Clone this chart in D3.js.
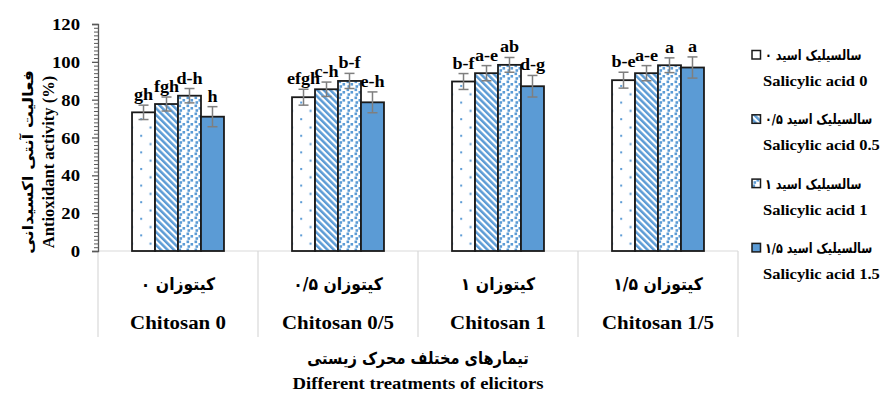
<!DOCTYPE html>
<html>
<head>
<meta charset="utf-8">
<script src="https://cdn.jsdelivr.net/npm/d3@7"></script>
<style>
  html, body { margin: 0; padding: 0; background: #fff; }
  svg { display: block; }
  .lat { font-family: "Liberation Serif", "Times New Roman", Tinos, "DejaVu Serif", serif; font-weight: bold; }
  .fa  { font-family: "DejaVu Sans", sans-serif; font-weight: bold; }
</style>
</head>
<body>
<svg id="chart" width="880" height="397"></svg>
<script>
// Chitosan treatments (groups) and salicylic acid levels (series)
const categories   = ["Chitosan 0", "Chitosan 0/5", "Chitosan 1", "Chitosan 1/5"];
const categoriesFa = ["کیتوزان ۰", "کیتوزان ۰/۵", "کیتوزان ۱", "کیتوزان ۱/۵"];
const seriesEn = ["Salicylic acid 0", "Salicylic acid 0.5", "Salicylic acid 1", "Salicylic acid 1.5"];
const seriesFa = ["سالسیلیک اسید ۰", "سالسیلیک اسید ۰/۵", "سالسیلیک اسید ۱", "سالسیلیک اسید ۱/۵"];

// Antioxidant activity (%) per series, one value per chitosan level
const sa0  = [73.3, 81.3, 89.6, 90.3];
const sa05 = [77.7, 85.5, 94.0, 94.0];
const sa1  = [82.1, 89.9, 98.4, 98.2];
const sa15 = [71.0, 78.6, 87.1, 97.0];

// Standard errors
const err0  = [3.8, 4.2, 4.2, 4.2];
const err05 = [3.7, 3.8, 4.0, 4.0];
const err1  = [3.8, 4.0, 3.9, 3.9];
const err15 = [5.3, 5.5, 5.7, 5.6];

// Mean-separation letters
const letters0  = ["gh", "efgh", "b-f", "b-e"];
const letters05 = ["fgh", "c-h", "a-e", "a-e"];
const letters1  = ["d-h", "b-f", "ab", "a"];
const letters15 = ["h", "e-h", "d-g", "a"];

const yTicks = [0, 20, 40, 60, 80, 100, 120];

const seriesValues  = [sa0, sa05, sa1, sa15];
const seriesErrors  = [err0, err05, err1, err15];
const seriesLetters = [letters0, letters05, letters1, letters15];

const BLUE = "#5b9bd5";
const SX = 1.1; // horizontal widening of Latin labels

const svg = d3.select("#chart");
const defs = svg.append("defs");

// --- fill patterns ---
// sparse dots
const pDots = defs.append("pattern").attr("id", "p0")
  .attr("patternUnits", "userSpaceOnUse").attr("width", 18.6).attr("height", 16.6);
pDots.append("rect").attr("width", 18.6).attr("height", 16.6).attr("fill", "#fff");
pDots.append("rect").attr("x", 5).attr("y", 2).attr("width", 2).attr("height", 2).attr("fill", BLUE);
pDots.append("rect").attr("x", 14.3).attr("y", 10.3).attr("width", 2).attr("height", 2).attr("fill", BLUE);

// wide downward diagonal stripes
const pDiag = defs.append("pattern").attr("id", "p1")
  .attr("patternUnits", "userSpaceOnUse").attr("width", 4.6).attr("height", 4.6)
  .attr("patternTransform", "rotate(-45)");
pDiag.append("rect").attr("width", 4.6).attr("height", 4.6).attr("fill", "#fff");
pDiag.append("rect").attr("width", 2.5).attr("height", 4.6).attr("fill", BLUE);

// confetti squares
const pConf = defs.append("pattern").attr("id", "p2")
  .attr("patternUnits", "userSpaceOnUse").attr("width", 8).attr("height", 8);
pConf.append("rect").attr("width", 8).attr("height", 8).attr("fill", "#fff");
[[0.5, 0.5], [4.5, 3], [1.5, 5.2]].forEach(([x, y]) =>
  pConf.append("rect").attr("x", x).attr("y", y).attr("width", 2.6).attr("height", 2.6).attr("fill", BLUE));

const fills = ["url(#p0)", "url(#p1)", "url(#p2)", BLUE];

// --- scales ---
const x0 = d3.scaleBand().domain(categories).range([98, 738]).paddingInner(0).paddingOuter(0);
const x1 = d3.scaleBand().domain(d3.range(4)).range([0, x0.bandwidth()]).paddingInner(0).paddingOuter(1.48);
const y = d3.scaleLinear().domain([0, 120]).range([251, 24]);

// Latin text, widened horizontally around its anchor
function latin(parent, x, yy, s, size, anchor) {
  return parent.append("text").attr("class", "lat")
    .attr("transform", `translate(${x},${yy}) scale(${SX},1)`)
    .attr("text-anchor", anchor || "middle")
    .attr("font-size", size).attr("fill", "#000").text(s);
}
// Persian text, right-to-left, with its own horizontal scale
function farsi(parent, x, yy, s, size, anchor, sx) {
  return parent.append("text").attr("class", "fa")
    .attr("transform", `translate(${x},${yy}) scale(${sx || 1},1)`)
    .attr("direction", "rtl")
    .attr("text-anchor", anchor || "middle")
    .attr("font-size", size).attr("fill", "#000").text(s);
}

// --- category axis: baseline and separators ---
const xa = svg.append("g");
xa.append("line").attr("x1", x0.range()[0]).attr("x2", x0.range()[1])
  .attr("y1", y(0)).attr("y2", y(0)).attr("stroke", "#d9d9d9").attr("stroke-width", 1.2);
const bounds = categories.map(c => x0(c)).concat([x0.range()[1]]);
xa.selectAll("line.sep").data(bounds).join("line").attr("class", "sep")
  .attr("x1", d => d).attr("x2", d => d).attr("y1", y(0)).attr("y2", 337)
  .attr("stroke", "#d9d9d9").attr("stroke-width", 1.2);

categories.forEach((c, i) => {
  const cx = x0(c) + x0.bandwidth() / 2;
  farsi(xa, cx, 290, categoriesFa[i], 17, "middle", 0.92);
  latin(xa, cx, 329, c, 19);
});

// --- bars ---
const groups = svg.append("g").selectAll("g").data(categories).join("g")
  .attr("transform", c => `translate(${x0(c)},0)`);

groups.each(function (c, ci) {
  const g = d3.select(this);
  const rows = seriesValues.map((vals, si) => ({
    si, v: vals[ci], e: seriesErrors[si][ci], lab: seriesLetters[si][ci]
  }));
  g.selectAll("rect").data(rows).join("rect")
    .attr("x", d => x1(d.si)).attr("width", x1.bandwidth())
    .attr("y", d => y(d.v)).attr("height", d => y(0) - y(d.v))
    .attr("fill", d => fills[d.si]).attr("stroke", "#1a1a1a").attr("stroke-width", 1.8);

  const cxOf = d => x1(d.si) + x1.bandwidth() / 2;
  const eb = g.selectAll("g.err").data(rows).join("g").attr("class", "err")
    .attr("stroke", "#7f7f7f").attr("stroke-width", 1.5);
  eb.append("line").attr("x1", cxOf).attr("x2", cxOf)
    .attr("y1", d => y(d.v + d.e)).attr("y2", d => y(d.v - d.e));
  eb.append("line").attr("x1", d => cxOf(d) - 5).attr("x2", d => cxOf(d) + 5)
    .attr("y1", d => y(d.v + d.e)).attr("y2", d => y(d.v + d.e));
  eb.append("line").attr("x1", d => cxOf(d) - 5).attr("x2", d => cxOf(d) + 5)
    .attr("y1", d => y(d.v - d.e)).attr("y2", d => y(d.v - d.e));

  rows.forEach(d => latin(g, cxOf(d), y(d.v + d.e) - 5, d.lab, 16.5));
});

// --- value axis ---
const yAxis = d3.axisLeft(y).tickValues(yTicks).tickSize(6).tickFormat("");
const ya = svg.append("g").attr("transform", "translate(98,0)").call(yAxis);
ya.select(".domain").attr("stroke", "#595959").attr("stroke-width", 1.3);
ya.selectAll(".tick line").attr("stroke", "#595959").attr("stroke-width", 1.3);
const yMinor = d3.axisLeft(y).tickValues(d3.range(0, 121, 2).filter(v => v % 20)).tickSize(4).tickFormat("");
const ym = svg.append("g").attr("transform", "translate(98,0)").call(yMinor);
ym.select(".domain").remove();
ym.selectAll(".tick line").attr("stroke", "#595959").attr("stroke-width", 1);
yTicks.forEach(t => latin(svg, 80, y(t) + 6, String(t), 17, "end"));

// axis titles
const yt = svg.append("g").attr("transform", "translate(0,162)");
yt.append("text").attr("class", "fa").attr("transform", "translate(28,0) rotate(-90) scale(1.12,1)")
  .attr("direction", "rtl").attr("text-anchor", "middle").attr("font-size", 15)
  .attr("dy", "0.35em").text("فعالیت آنتی اکسیدانی");
yt.append("text").attr("class", "lat").attr("transform", "translate(48,0) rotate(-90)")
  .attr("text-anchor", "middle").attr("font-size", 16.5)
  .attr("dy", "0.35em").text("Antioxidant activity (%)");

farsi(svg, 418, 364, "تیمارهای مختلف محرک زیستی", 17, "middle", 0.86);
latin(svg, 418, 389, "Different treatments of elicitors", 17);

// --- legend ---
const lg = svg.append("g");
seriesEn.forEach((s, i) => {
  const yy = 55 + i * 64.3;
  lg.append("rect").attr("x", 752).attr("y", yy - 4.5).attr("width", 8.5).attr("height", 8.5)
    .attr("fill", fills[i]).attr("stroke", "#1a1a1a").attr("stroke-width", 1.5);
  farsi(lg, 765, yy + 5, seriesFa[i], 14, "end", 0.8);
  latin(lg, 763, yy + 31, s, 15, "start");
});
</script>
</body>
</html>
